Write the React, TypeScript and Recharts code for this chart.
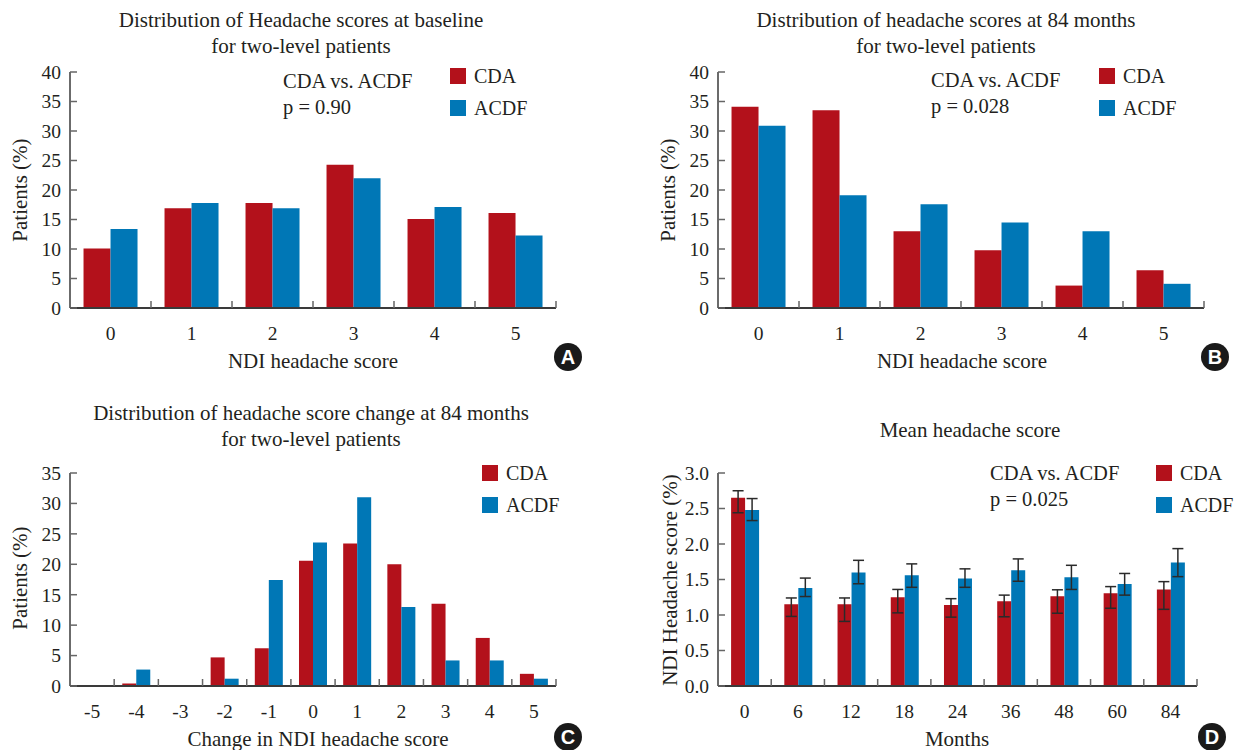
import React from 'react';
import { BarChart, Bar, XAxis, YAxis, Legend, ErrorBar } from 'recharts';

const CDA_COLOR = '#B3111B';
const ACDF_COLOR = '#0077B6';
const TEXT = '#231F20';
const FONT = '"Liberation Serif", "DejaVu Serif", serif';

// Panel A – baseline distribution
const scoreCategories = ['0', '1', '2', '3', '4', '5'];
const baselineCDA = [10.1, 16.9, 17.8, 24.3, 15.1, 16.1];
const baselineACDF = [13.4, 17.8, 16.9, 22.0, 17.1, 12.3];

// Panel B – 84 months distribution
const m84CDA = [34.1, 33.5, 13.0, 9.8, 3.8, 6.4];
const m84ACDF = [30.9, 19.1, 17.6, 14.5, 13.0, 4.1];

// Panel C – change distribution
const changeCategories = ['-5', '-4', '-3', '-2', '-1', '0', '1', '2', '3', '4', '5'];
const changeCDA = [0, 0.4, 0, 4.7, 6.2, 20.6, 23.4, 20.0, 13.5, 7.9, 2.0];
const changeACDF = [0, 2.7, 0, 1.2, 17.4, 23.6, 31.0, 13.0, 4.2, 4.2, 1.2];

// Panel D – mean headache score
const months = ['0', '6', '12', '18', '24', '36', '48', '60', '84'];
const meanCDA = [2.65, 1.15, 1.15, 1.25, 1.14, 1.195, 1.265, 1.305, 1.36];
const meanCDALow = [0.21, 0.17, 0.24, 0.22, 0.17, 0.22, 0.24, 0.21, 0.28];
const meanCDAHigh = [0.1, 0.09, 0.09, 0.11, 0.09, 0.085, 0.09, 0.095, 0.11];
const meanACDF = [2.48, 1.38, 1.6, 1.56, 1.515, 1.63, 1.53, 1.435, 1.74];
const meanACDFLow = [0.15, 0.12, 0.16, 0.17, 0.125, 0.155, 0.17, 0.155, 0.2];
const meanACDFHigh = [0.16, 0.14, 0.17, 0.16, 0.135, 0.16, 0.17, 0.15, 0.195];

const pctTicks40 = [0, 5, 10, 15, 20, 25, 30, 35, 40];
const pctTicks35 = [0, 5, 10, 15, 20, 25, 30, 35];
const meanTicks = [0, 0.5, 1, 1.5, 2, 2.5, 3];
const seriesOrder = ['CDA', 'ACDF'];

const dataA = scoreCategories.map((c, i) => ({ cat: c, cda: baselineCDA[i], acdf: baselineACDF[i] }));
const dataB = scoreCategories.map((c, i) => ({ cat: c, cda: m84CDA[i], acdf: m84ACDF[i] }));
const dataC = changeCategories.map((c, i) => ({ cat: c, cda: changeCDA[i], acdf: changeACDF[i] }));
const dataD = months.map((c, i) => ({
  cat: c,
  cda: meanCDA[i],
  acdf: meanACDF[i],
  cdaErr: [meanCDALow[i], meanCDAHigh[i]],
  acdfErr: [meanACDFLow[i], meanACDFHigh[i]],
}));

const TICK_FS = 19.5;

const makeXTick = (bw: number) => (props: any) => {
  const { x, y, payload } = props;
  return (
    <g>
      <line x1={x + bw / 2} x2={x + bw / 2} y1={y} y2={y - 7} stroke="#666" strokeWidth={1.5} />
      <text x={x} y={y + 25} dy="0.35em" textAnchor="middle" fill={TEXT} fontSize={TICK_FS} fontFamily={FONT}>
        {payload.value}
      </text>
    </g>
  );
};

const makeYTick = (fmt: (v: number) => string) => (props: any) => {
  const { x, y, payload } = props;
  return (
    <g>
      <line x1={x} x2={x + 7} y1={y} y2={y} stroke="#666" strokeWidth={1.5} />
      <text x={x - 9} y={y} dy="0.35em" textAnchor="end" fill={TEXT} fontSize={TICK_FS} fontFamily={FONT}>
        {fmt(payload.value)}
      </text>
    </g>
  );
};

const renderLegend = (props: any) => {
  const items = [...(props.payload || [])].sort(
    (a: any, b: any) => seriesOrder.indexOf(a.value) - seriesOrder.indexOf(b.value)
  );
  return (
    <div style={{ fontFamily: FONT, color: TEXT, fontSize: 20 }}>
      {items.map((p: any) => (
        <div key={p.value} style={{ display: 'flex', alignItems: 'center', height: 32 }}>
          <span style={{ display: 'inline-block', width: 16, height: 16, background: p.color, marginRight: 8 }} />
          <span>{p.value}</span>
        </div>
      ))}
    </div>
  );
};

type PanelProps = {
  left: number;
  top: number;
  width: number;
  height: number;
  plotLeft: number;
  plotTop: number;
  plotRight: number;
  plotBottom: number;
  data: any[];
  domain: [number, number];
  ticks: number[];
  fmt: (v: number) => string;
  gap: string;
  legendX: number;
  legendY: number;
  errors?: boolean;
};

function Panel(p: PanelProps) {
  const xAxisHeight = 40;
  const margin = {
    top: p.plotTop - p.top,
    left: 0,
    right: p.left + p.width - p.plotRight,
    bottom: p.top + p.height - p.plotBottom - xAxisHeight,
  };
  const yWidth = p.plotLeft - p.left;
  const bw = (p.plotRight - p.plotLeft) / p.data.length;
  return (
    <div style={{ position: 'absolute', left: p.left, top: p.top }}>
      <BarChart
        width={p.width}
        height={p.height}
        data={p.data}
        margin={margin}
        barCategoryGap={p.gap}
        barGap={0}
      >
        <XAxis
          dataKey="cat"
          height={xAxisHeight}
          interval={0}
          tickSize={0}
          tickMargin={0}
          tickLine={false}
          axisLine={{ stroke: '#3a3a3a', strokeWidth: 2 }}
          tick={makeXTick(bw)}
        />
        <YAxis
          width={yWidth}
          domain={p.domain}
          ticks={p.ticks}
          interval={0}
          allowDataOverflow
          tickSize={0}
          tickMargin={0}
          tickLine={false}
          axisLine={{ stroke: '#3a3a3a', strokeWidth: 1.5 }}
          tick={makeYTick(p.fmt)}
        />
        <Legend
          layout="vertical"
          align="center"
          verticalAlign="middle"
          itemSorter={null as any}
          wrapperStyle={{ left: p.legendX - p.left, top: p.legendY - p.top, width: 120, height: 64 }}
          content={renderLegend}
        />
        <Bar dataKey="cda" name="CDA" fill={CDA_COLOR} isAnimationActive={false}>
          {p.errors ? <ErrorBar dataKey="cdaErr" width={5.5} stroke="#2a2a2a" strokeWidth={1.5} direction="y" /> : null}
        </Bar>
        <Bar dataKey="acdf" name="ACDF" fill={ACDF_COLOR} isAnimationActive={false}>
          {p.errors ? <ErrorBar dataKey="acdfErr" width={5.5} stroke="#2a2a2a" strokeWidth={1.5} direction="y" /> : null}
        </Bar>
      </BarChart>
    </div>
  );
}

const textBase: React.CSSProperties = {
  position: 'absolute',
  fontFamily: FONT,
  color: TEXT,
  fontSize: 21,
  lineHeight: '26px',
  whiteSpace: 'nowrap',
};

function Title({ cx, y, lines }: { cx: number; y: number; lines: string[] }) {
  return (
    <div style={{ ...textBase, left: cx - 300, width: 600, top: y - 13, textAlign: 'center' }}>
      {lines.map((l) => (
        <div key={l}>{l}</div>
      ))}
    </div>
  );
}

function Note({ x, y, lines }: { x: number; y: number; lines: string[] }) {
  return (
    <div style={{ ...textBase, fontSize: 20.5, left: x, top: y - 13 }}>
      {lines.map((l) => (
        <div key={l}>{l}</div>
      ))}
    </div>
  );
}

function VLabel({ cx, cy, text }: { cx: number; cy: number; text: string }) {
  return (
    <div
      style={{
        ...textBase,
        left: cx - 150,
        top: cy - 13,
        width: 300,
        textAlign: 'center',
        transform: 'rotate(-90deg)',
      }}
    >
      {text}
    </div>
  );
}

function Badge({ cx, cy, letter }: { cx: number; cy: number; letter: string }) {
  return (
    <div
      style={{
        position: 'absolute',
        left: cx - 14,
        top: cy - 14,
        width: 28,
        height: 28,
        borderRadius: 14,
        background: '#1a1a1a',
        color: '#fff',
        fontFamily: '"Liberation Sans", Arial, sans-serif',
        fontWeight: 'bold',
        fontSize: 20,
        lineHeight: '28px',
        textAlign: 'center',
      }}
    >
      {letter}
    </div>
  );
}

const int = (v: number) => String(v);
const one = (v: number) => v.toFixed(1);

const bottomLabel: React.CSSProperties = { ...textBase, lineHeight: '20px', top: 729, width: 400, textAlign: 'center' };

export default function App() {
  return (
    <div
      style={{
        position: 'absolute',
        left: 0,
        top: 0,
        width: 1237,
        height: 750,
        background: '#fff',
        overflow: 'hidden',
        fontFamily: FONT,
      }}
    >
      <Panel
        left={0}
        top={0}
        width={600}
        height={385}
        plotLeft={70}
        plotTop={72}
        plotRight={556}
        plotBottom={308}
        data={dataA}
        domain={[0, 40]}
        ticks={pctTicks40}
        fmt={int}
        gap="16.7%"
        legendX={450}
        legendY={60}
      />
      <Panel
        left={640}
        top={0}
        width={597}
        height={385}
        plotLeft={718}
        plotTop={72}
        plotRight={1204}
        plotBottom={308}
        data={dataB}
        domain={[0, 40]}
        ticks={pctTicks40}
        fmt={int}
        gap="16.7%"
        legendX={1099}
        legendY={60}
      />
      <Panel
        left={0}
        top={390}
        width={600}
        height={360}
        plotLeft={70}
        plotTop={473}
        plotRight={556}
        plotBottom={686}
        data={dataC}
        domain={[0, 35]}
        ticks={pctTicks35}
        fmt={int}
        gap="18.3%"
        legendX={482}
        legendY={457}
      />
      <Panel
        left={640}
        top={390}
        width={597}
        height={360}
        plotLeft={718}
        plotTop={473}
        plotRight={1197}
        plotBottom={686}
        data={dataD}
        domain={[0, 3]}
        ticks={meanTicks}
        fmt={one}
        gap="24.6%"
        legendX={1156}
        legendY={457}
        errors
      />

      <Title cx={301} y={20} lines={['Distribution of Headache scores at baseline', 'for two-level patients']} />
      <Title cx={946} y={20} lines={['Distribution of headache scores at 84 months', 'for two-level patients']} />
      <Title cx={311} y={413} lines={['Distribution of headache score change at 84 months', 'for two-level patients']} />
      <Title cx={970} y={430} lines={['Mean headache score']} />

      <Note x={283} y={81} lines={['CDA vs. ACDF', 'p = 0.90']} />
      <Note x={931} y={80} lines={['CDA vs. ACDF', 'p = 0.028']} />
      <Note x={990} y={473} lines={['CDA vs. ACDF', 'p = 0.025']} />

      <div style={{ ...textBase, left: 113, width: 400, top: 361 - 13, textAlign: 'center' }}>NDI headache score</div>
      <div style={{ ...textBase, left: 762, width: 400, top: 361 - 13, textAlign: 'center' }}>NDI headache score</div>
      <div style={{ ...bottomLabel, left: 118 }}>Change in NDI headache score</div>
      <div style={{ ...bottomLabel, left: 757 }}>Months</div>

      <VLabel cx={20} cy={190} text="Patients (%)" />
      <VLabel cx={668} cy={190} text="Patients (%)" />
      <VLabel cx={20} cy={578} text="Patients (%)" />
      <VLabel cx={670} cy={580} text="NDI Headache score (%)" />

      <Badge cx={568} cy={357} letter="A" />
      <Badge cx={1215} cy={357} letter="B" />
      <Badge cx={568} cy={737} letter="C" />
      <Badge cx={1212} cy={737} letter="D" />
    </div>
  );
}
